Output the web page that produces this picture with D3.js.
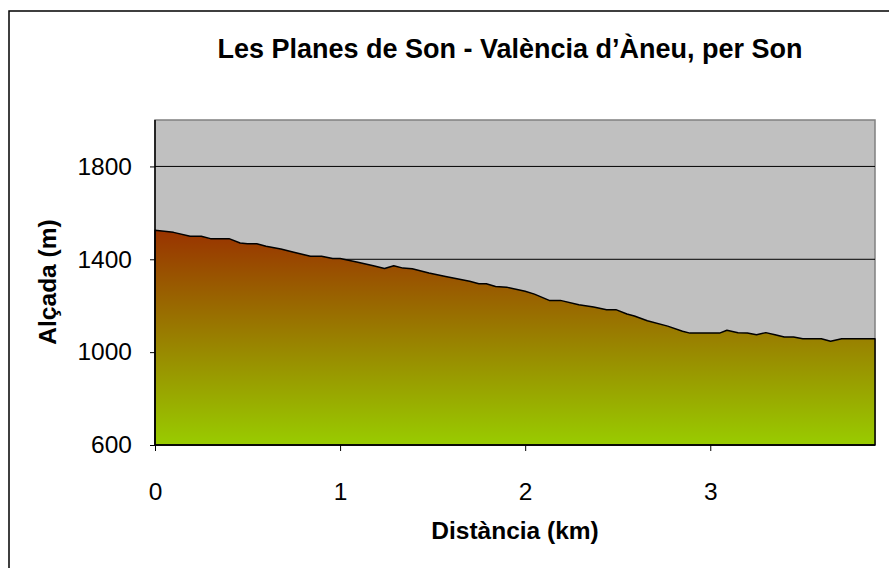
<!DOCTYPE html>
<html>
<head>
<meta charset="utf-8">
<script src="https://cdn.jsdelivr.net/npm/d3@7"></script>
<style>
  body { margin: 0; background: #fff; }
  text { font-family: Arial, "Liberation Sans", sans-serif; }
</style>
</head>
<body>
<script>
// profile: distance (km) and altitude (m)
let distKm = [0, 0.1, 0.19, 0.25, 0.3, 0.4, 0.46, 0.5, 0.55, 0.6, 0.68, 0.75, 0.84, 0.9, 0.96, 1.0,
              1.09, 1.18, 1.24, 1.29, 1.34, 1.39, 1.48, 1.57, 1.7, 1.75, 1.79, 1.84, 1.9, 2.0, 2.05,
              2.13, 2.19, 2.29, 2.37, 2.44, 2.49, 2.55, 2.59, 2.66, 2.77, 2.85, 2.89, 3.05, 3.09,
              3.15, 3.2, 3.25, 3.3, 3.35, 3.4, 3.45, 3.5, 3.6, 3.65, 3.71, 3.89]
let altM = [1525, 1516, 1499, 1499, 1489, 1489, 1470, 1467, 1467, 1456, 1444, 1430, 1413, 1413, 1403, 1403,
            1388, 1372, 1360, 1372, 1362, 1359, 1341, 1326, 1305, 1295, 1295, 1283, 1280, 1262, 1250,
            1223, 1223, 1204, 1194, 1183, 1183, 1164, 1156, 1135, 1112, 1090, 1082, 1082, 1094,
            1084, 1082, 1075, 1084, 1075, 1065, 1065, 1058, 1058, 1047, 1058, 1058]

let yTicks = [600, 1000, 1400, 1800]
let xTicks = [0, 1, 2, 3]
let titleText = "Les Planes de Son - València d\u2019Àneu, per Son"
let xTitle = "Distància (km)"
let yTitle = "Alçada (m)"

let width = 889
let height = 568
let plotL = 155, plotR = 875, plotT = 120, plotB = 445

let svg = d3.select('body')
    .append('svg')
    .attr('width', width)
    .attr('height', height)

// chart frame (runs off the right and bottom edges like the original)
svg.append('rect')
    .attr('x', 9).attr('y', 11)
    .attr('width', 900).attr('height', 600)
    .attr('fill', '#fff')
    .attr('stroke', '#000')
    .attr('stroke-width', 1.5)

let xScale = d3.scaleLinear().domain([0, 3.89]).range([plotL, plotR])
let yScale = d3.scaleLinear().domain([600, 2000]).range([plotB, plotT])

// plot area
svg.append('rect')
    .attr('x', plotL).attr('y', plotT)
    .attr('width', plotR - plotL).attr('height', plotB - plotT)
    .attr('fill', '#c0c0c0')
    .attr('stroke', '#808080')
    .attr('stroke-width', 1.5)

// gridlines
svg.append('g')
    .selectAll('line')
    .data(yTicks.slice(1))
    .enter().append('line')
    .attr('x1', plotL).attr('x2', plotR)
    .attr('y1', d => yScale(d)).attr('y2', d => yScale(d))
    .attr('stroke', '#000')
    .attr('stroke-width', 1)

// gradient for the area
let defs = svg.append('defs')
let grad = defs.append('linearGradient')
    .attr('id', 'fillGrad')
    .attr('gradientUnits', 'userSpaceOnUse')
    .attr('x1', 0).attr('x2', 0)
    .attr('y1', yScale(d3.max(altM))).attr('y2', yScale(600))
grad.append('stop').attr('offset', '0%').attr('stop-color', '#993300')
grad.append('stop').attr('offset', '100%').attr('stop-color', '#99cc00')

let pts = distKm.map((d, i) => [d, altM[i]])

let area = d3.area()
    .x(d => xScale(d[0]))
    .y0(yScale(600))
    .y1(d => yScale(d[1]))

svg.append('path')
    .datum(pts)
    .attr('d', area)
    .attr('fill', 'url(#fillGrad)')
    .attr('stroke', '#000')
    .attr('stroke-width', 1.5)
    .attr('stroke-linejoin', 'round')

// axes
let yAxis = d3.axisLeft(yScale).tickValues(yTicks).tickSize(5).tickFormat(d3.format('d'))
let xAxis = d3.axisBottom(xScale).tickValues(xTicks).tickSize(6).tickFormat(d3.format('d'))

let gy = svg.append('g')
    .attr('transform', 'translate(' + plotL + ',0)')
    .call(yAxis)
gy.select('.domain').attr('d', 'M0,' + plotT + 'V' + plotB).attr('stroke', '#000').attr('stroke-width', 1.5)
gy.selectAll('.tick line').attr('stroke', '#000')
gy.selectAll('.tick text')
    .attr('x', -23)
    .attr('font-size', 24.5)
    .attr('font-family', 'Arial, "Liberation Sans", sans-serif')
    .attr('fill', '#000')

let gx = svg.append('g')
    .attr('transform', 'translate(0,' + plotB + ')')
    .call(xAxis)
gx.select('.domain').attr('d', 'M' + plotL + ',0H' + plotR).attr('stroke', '#000').attr('stroke-width', 1.5)
gx.selectAll('.tick line').attr('stroke', '#000')
gx.selectAll('.tick text')
    .attr('y', 38)
    .attr('dy', '0.71em')
    .attr('font-size', 24.5)
    .attr('font-family', 'Arial, "Liberation Sans", sans-serif')
    .attr('fill', '#000')

// titles
svg.append('text')
    .attr('x', 510).attr('y', 58)
    .attr('text-anchor', 'middle')
    .attr('font-size', 27)
    .attr('font-weight', 'bold')
    .text(titleText)

svg.append('text')
    .attr('x', 515).attr('y', 539)
    .attr('text-anchor', 'middle')
    .attr('font-size', 24.5)
    .attr('font-weight', 'bold')
    .text(xTitle)

svg.append('text')
    .attr('transform', 'translate(56,282) rotate(-90)')
    .attr('text-anchor', 'middle')
    .attr('font-size', 24.5)
    .attr('font-weight', 'bold')
    .text(yTitle)
</script>
</body>
</html>
